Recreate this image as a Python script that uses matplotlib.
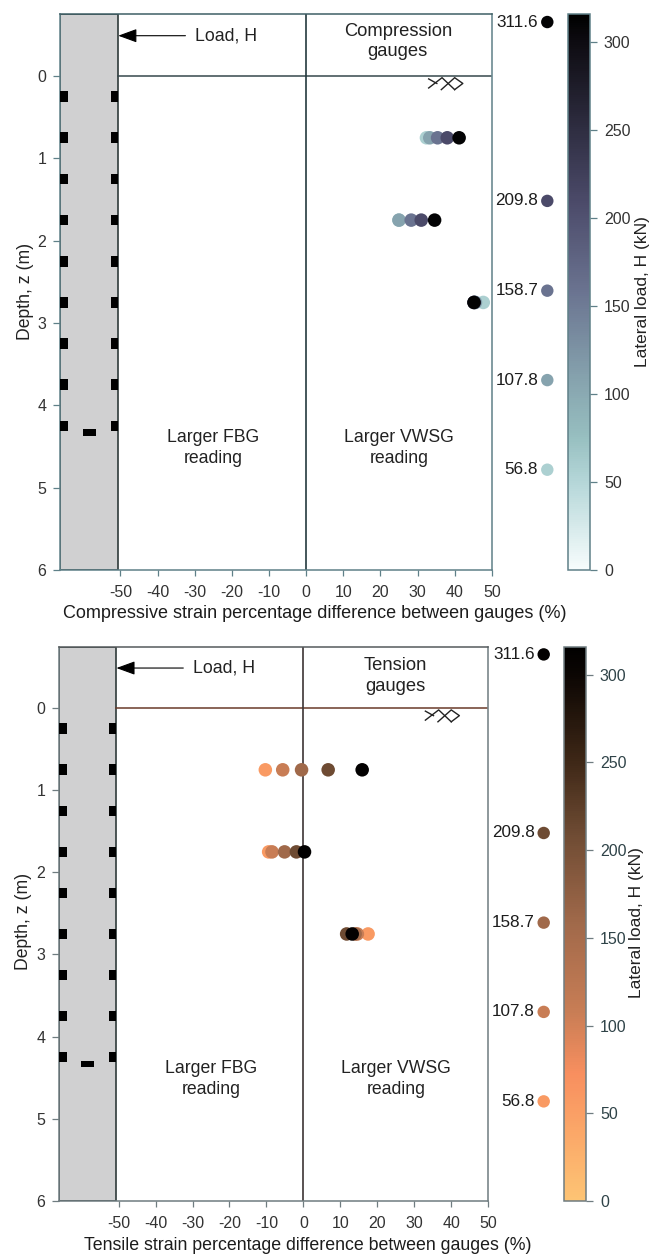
import matplotlib
matplotlib.use("Agg")
import matplotlib.pyplot as plt
from matplotlib.colors import LinearSegmentedColormap, Normalize
from matplotlib.cm import ScalarMappable
from matplotlib.patches import Rectangle

plt.rcParams['font.family'] = ['Liberation Sans', 'DejaVu Sans']
plt.rcParams['axes.unicode_minus'] = False

W, H = 661, 1255
LOADS = [56.8, 107.8, 158.7, 209.8, 311.6]
LOAD_LABELS = ['56.8', '107.8', '158.7', '209.8', '311.6']
DEPTHS = [0.75, 1.75, 2.75]
COMP_075 = [32.4, 33.3, 35.4, 38.0, 41.2]
COMP_175 = [25.0, 25.0, 28.3, 31.0, 34.6]
COMP_275 = [47.7, 45.6, 45.3, 45.2, 45.2]
TENS_075 = [-10.3, -5.6, -0.5, 6.7, 15.9]
TENS_175 = [-9.4, -8.5, -5.1, -1.9, 0.3]
TENS_275 = [17.5, 14.6, 14.0, 11.7, 13.2]
GAUGE_DEPTHS = [0.25, 0.75, 1.25, 1.75, 2.25, 2.75, 3.25, 3.75, 4.25]
BOTTOM_GAUGE_DEPTH = 4.33
XTICKS = list(range(-50, 51, 10))
YTICKS = list(range(0, 7))
CBAR_TICKS = [0, 50, 100, 150, 200, 250, 300]
CBAR_MAX = 316

COMP_COLORS = [(0, '#f6fcfc'), (50, '#b4d6d8'), (75, '#97bfc0'), (107.8, '#86a3ae'),
               (158.7, '#6a7390'), (209.8, '#4b4a69'), (250, '#2f2e42'), (300, '#0e0c12'), (316, '#000000')]
TENS_COLORS = [(0, '#fdc474'), (50, '#fa9f65'), (72, '#f88f5f'), (107.8, '#c87d55'),
               (158.7, '#a0694a'), (209.8, '#6e4b33'), (250, '#3f2817'), (300, '#0c0603'), (316, '#000000')]


def make_cmap(name, anchors):
    return LinearSegmentedColormap.from_list(name, [(v / CBAR_MAX, c) for v, c in anchors])


def box(left, top, right, bottom):
    return [left / W, 1 - bottom / H, (right - left) / W, (bottom - top) / H]


fig = plt.figure(figsize=(W / 100, H / 100), dpi=100, facecolor='white')
TXT = '#222222'
FS = 12.7


def panel(rect, xlim, ylim, series, anchors, name, frame, frame_top, hline, vline, xlabel, xlabel_pos, xlabel_fs,
          ylabel_pos, cbar_box, cbar_label_pos, legend_x, note, note_xy, load_px, load_text_x, tick_color):
    cmap = make_cmap(name, anchors)
    norm = Normalize(0, CBAR_MAX)
    ax = fig.add_axes(box(*rect))
    ax.set_xlim(*xlim)
    ax.set_ylim(*ylim)
    for side in ax.spines:
        ax.spines[side].set_color(frame)
        ax.spines[side].set_linewidth(1.1)
    ax.spines['top'].set_color(frame_top)
    ax.set_xticks(XTICKS)
    ax.set_yticks(YTICKS)
    ax.tick_params(axis='both', length=4, width=0.9, color=frame, labelsize=11.5,
                   labelcolor='#333333', pad=7)
    ax.tick_params(axis='y', pad=5, length=5)

    # pile
    ax.add_patch(Rectangle((xlim[0], ylim[1]), -50.6 - xlim[0], ylim[0] - ylim[1], fc='#d0d0d1',
                           ec='#2f3a3a', lw=1.2, zorder=2))
    for d in GAUGE_DEPTHS:
        ax.add_patch(Rectangle((xlim[0], d - 0.065), 2.05, 0.13, fc='black', ec='none', zorder=3))
        ax.add_patch(Rectangle((-50.6 - 2.05, d - 0.065), 2.05, 0.13, fc='black', ec='none', zorder=3))
    ax.add_patch(Rectangle((-60.1, BOTTOM_GAUGE_DEPTH - 0.037), 3.5, 0.074, fc='black', ec='none', zorder=3))

    ax.plot([-50.6, xlim[1]], [0, 0], color=hline, lw=1.1, zorder=2)
    ax.axvline(0, color=vline, lw=1.2, zorder=2)

    # soil break symbol
    for xs, ys in [([33, 35.2], [0.035, 0.09]),
                   ([33, 36.6, 40], [0.145, 0.02, 0.165]),
                   ([36.4, 40, 42.2, 40], [0.165, 0.02, 0.09, 0.165])]:
        ax.plot(xs, ys, color='#222222', lw=1.0, zorder=2)

    # load arrow
    ax.annotate('', xy=(-50.6, -0.49), xytext=(load_px, -0.49),
                arrowprops=dict(arrowstyle='-|>,head_length=1.15,head_width=0.42', color='black', lw=0.8,
                                shrinkA=0, shrinkB=0), zorder=3)
    ax.text(load_text_x, -0.49, 'Load, H', ha='left', va='center', fontsize=FS, color=TXT)
    ax.text(note_xy[0], note_xy[1], note, ha='center', va='center', fontsize=13.2, color=TXT,
            linespacing=1.3)
    ax.text(-25, 4.52, 'Larger FBG\nreading', ha='center', va='center', fontsize=FS, color=TXT,
            linespacing=1.27)
    ax.text(25, 4.52, 'Larger VWSG\nreading', ha='center', va='center', fontsize=FS, color=TXT,
            linespacing=1.27)

    for depth, vals in zip(DEPTHS, series):
        ax.scatter(vals, [depth] * len(vals), c=LOADS, cmap=cmap, norm=norm, s=95, linewidths=0, zorder=4)

    fig.text(xlabel_pos[0] / W, 1 - xlabel_pos[1] / H, xlabel, ha='center', va='center', fontsize=xlabel_fs,
             color='#1c1c1c')
    fig.text(ylabel_pos[0] / W, 1 - ylabel_pos[1] / H, 'Depth, z (m)', rotation=90, ha='center', va='center',
             fontsize=FS, color=TXT)

    # colour bar
    cax = fig.add_axes(box(*cbar_box))
    cb = fig.colorbar(ScalarMappable(norm=norm, cmap=cmap), cax=cax)
    cb.set_ticks(CBAR_TICKS)
    cb.outline.set_edgecolor(frame)
    cb.outline.set_linewidth(1.1)
    cax.tick_params(length=5, width=0.9, color=frame, labelsize=11.5, labelcolor=tick_color, pad=5)
    fig.text(cbar_label_pos[0] / W, 1 - cbar_label_pos[1] / H, 'Lateral load, H (kN)', rotation=90,
             ha='center', va='center', fontsize=12.5, color=TXT)

    # load key aligned with the colour scale
    lax = fig.add_axes(box(legend_x - 50, cbar_box[1], legend_x + 10, cbar_box[3]))
    lax.set_xlim(-50, 10)
    lax.set_ylim(0, CBAR_MAX)
    lax.axis('off')
    lax.scatter([0] * len(LOADS), LOADS, c=LOADS, cmap=cmap, norm=norm, s=80, linewidths=0, clip_on=False)
    for v, t in zip(LOADS, LOAD_LABELS):
        lax.annotate(t, (0, v), xytext=(-6.6, 0), textcoords='offset points', ha='right', va='center',
                     fontsize=12.3, color='#1c1c1c', annotation_clip=False)


panel((60.3, 14.3, 491.8, 570), (-66.2, 49.8), (6, -0.75), [COMP_075, COMP_175, COMP_275], COMP_COLORS, 'comp',
      '#5f8088', '#3f5f66', '#35484c', '#24393e',
      'Compressive strain percentage difference between gauges (%)', (315, 614), 12.95, (25, 291),
      (568.3, 14.3, 590, 569.5), (642, 292), 547.3, 'Compression\ngauges', (24.7, -0.42), -32.5, -29.8, '#333333')

panel((59.3, 646.7, 488.2, 1200.7), (-66.05, 49.8), (6, -0.75), [TENS_075, TENS_175, TENS_275], TENS_COLORS, 'tens',
      '#6f7c80', '#555a5c', '#6a3a2a', '#3d3535',
      'Tensile strain percentage difference between gauges (%)', (308, 1245), 12.8, (24, 921),
      (564, 646.7, 586, 1201), (637, 923), 543.7, 'Tension\ngauges', (24.9, -0.39), -32.5, -29.8, '#2f4348')

fig.savefig('out.png', dpi=100, facecolor='white')
